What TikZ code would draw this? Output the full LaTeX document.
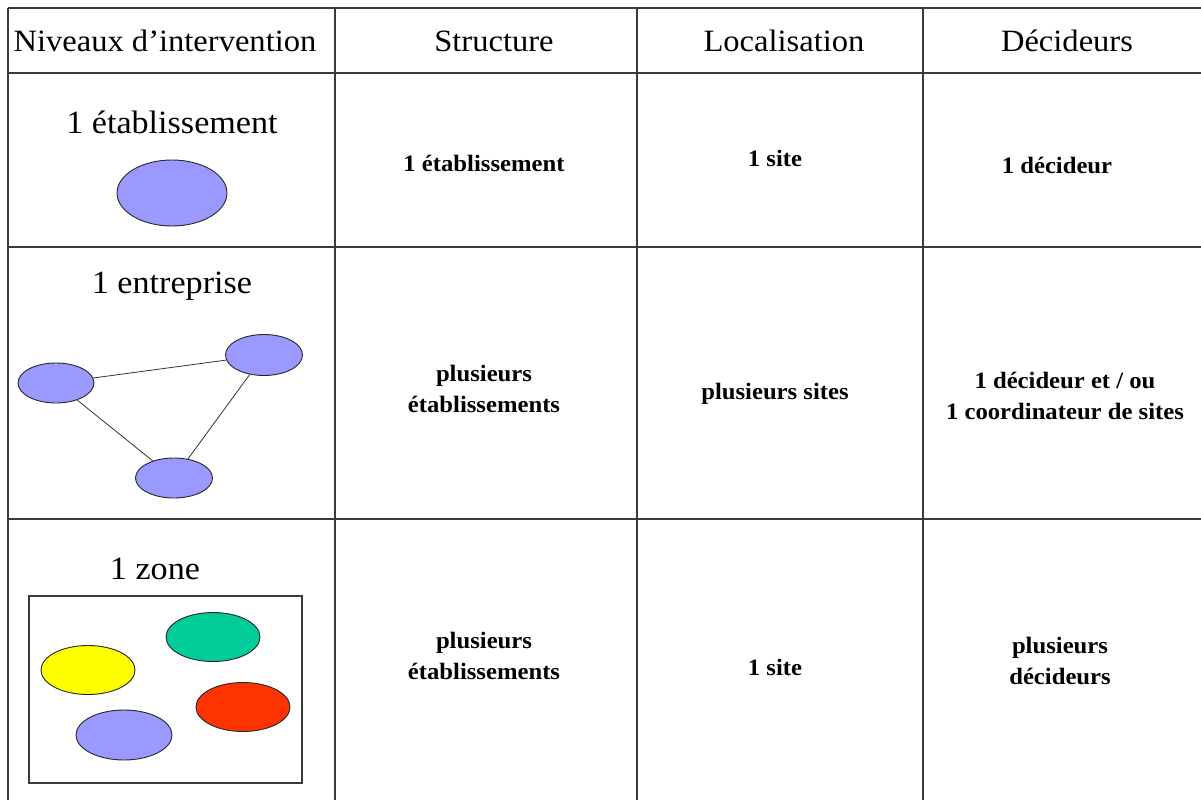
\documentclass[tikz,border=0pt]{standalone}
\usepackage{fontspec}
\setmainfont[FakeStretch=1.05]{Liberation Serif}
\usetikzlibrary{shapes.geometric}
\definecolor{lav}{HTML}{9999FF}
\definecolor{grn}{HTML}{00CC99}
\definecolor{yel}{HTML}{FFFF00}
\definecolor{rd}{HTML}{FF3300}
\definecolor{grid}{HTML}{3A3A3A}
\tikzset{
  gridline/.style={draw=grid, line width=1.4pt},
  hdr/.style={font=\fontsize{31}{36}\selectfont, inner sep=0pt, anchor=center},
  lvl/.style={font=\fontsize{32.5}{38}\selectfont, inner sep=0pt, anchor=center},
  cell/.style={font=\fontsize{23.5}{30.5}\selectfont\bfseries, inner sep=0pt, align=center, anchor=center},
  blob/.style={ellipse, draw=black!85, line width=0.9pt, inner sep=0pt},
  link/.style={draw=black!80, line width=0.8pt},
}
\begin{document}
\begin{tikzpicture}[x=1pt, y=-1pt]
\useasboundingbox[fill=white] (0,0) rectangle (1201,800);
% grid
\foreach \yy in {8,73,247,519} \draw[gridline] (8,\yy) -- (1201,\yy);
\foreach \xx in {8,335,637,923} \draw[gridline] (\xx,8) -- (\xx,800);
% headers
\node[hdr] (h1) at (165,41) {Niveaux d’intervention};
\node[hdr] (h2) at (494,41) {Structure};
\node[hdr] (h3) at (784,41) {Localisation};
\node[hdr] (h4) at (1067,41) {Décideurs};
% row labels
\node[lvl] (l1) at (172,122) {1 établissement};
\node[lvl] (l2) at (172,286) {1 entreprise};
\node[lvl] (l3) at (155,569) {1 zone};
% row 1 shape
\node[blob, fill=lav, minimum width=110pt, minimum height=66pt] (e0) at (172,193) {};
% row 2 shapes
\node[blob, fill=lav, minimum width=76pt, minimum height=40pt] (ea) at (56,383) {};
\node[blob, fill=lav, minimum width=77pt, minimum height=41pt] (eb) at (264,355) {};
\node[blob, fill=lav, minimum width=77pt, minimum height=40pt] (ec) at (174,478) {};
\draw[link] (ea) -- (eb);
\draw[link] (ea) -- (ec);
\draw[link] (eb) -- (ec);
% row 3 shapes
\node[draw=grid, line width=1.2pt, minimum width=273pt, minimum height=187pt, inner sep=0pt] (zone) at (165.5,689.5) {};
\node[blob, fill=grn, minimum width=94pt, minimum height=49pt] (z1) at (213,637) {};
\node[blob, fill=yel, minimum width=94pt, minimum height=49pt] (z2) at (88,670) {};
\node[blob, fill=rd, minimum width=94pt, minimum height=49pt] (z3) at (243,707) {};
\node[blob, fill=lav, minimum width=96pt, minimum height=50pt] (z4) at (124,735) {};
% cells row 1
\node[cell] (c11) at (484,163) {1 établissement};
\node[cell] (c12) at (775,158) {1 site};
\node[cell] (c13) at (1057,165) {1 décideur};
% cells row 2
\node[cell] (c21) at (484,389) {plusieurs\\établissements};
\node[cell] (c22) at (775,394) {plusieurs sites};
\node[cell] (c23) at (1065,396) {1 décideur et / ou\\1 coordinateur de sites};
% cells row 3
\node[cell] (c31) at (484,656) {plusieurs\\établissements};
\node[cell] (c32) at (775,667) {1 site};
\node[cell] (c33) at (1060,661) {plusieurs\\décideurs};
\end{tikzpicture}
\end{document}
